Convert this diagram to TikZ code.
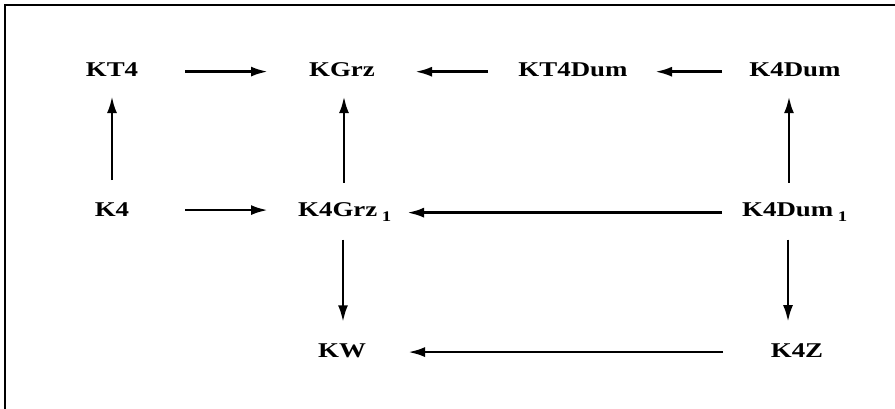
\documentclass[tikz,border=0pt]{standalone}
\usepackage{fontspec}
\setmainfont{Liberation Serif}
\usetikzlibrary{arrows.meta}
\newcommand{\sx}[1]{\scalebox{1.28}[1]{#1}}
\tikzset{
  lbl/.style={font=\fontsize{21}{25}\selectfont\bfseries, inner sep=0pt, anchor=base},
  arr/.style={line width=2.8pt, -{Latex[length=17pt,width=10pt]}},
  frame/.style={line width=2pt}
}
\begin{document}
\begin{tikzpicture}[x=1pt,y=-1pt]
\useasboundingbox (0,0) rectangle (895,409);
\draw[frame] (5,409) -- (5,5) -- (895,5);
% row 1
\node[lbl] (kt4)    at (112,77) {\sx{KT4}};
\node[lbl] (kgrz)   at (342,77) {\sx{KGrz}};
\node[lbl] (kt4dum) at (573,77) {\sx{KT4Dum}};
\node[lbl] (k4dum)  at (795,77) {\sx{K4Dum}};
% row 2
\node[lbl] (k4)     at (112,216) {\sx{K4}};
\node[lbl] (k4grz)  at (345,216) {\sx{K4Grz\,\raisebox{-2pt}{\textsubscript{1}}}};
\node[lbl] (k4dum1) at (795,216) {\sx{K4Dum\,\raisebox{-2pt}{\textsubscript{1}}}};
% row 3
\node[lbl] (kw)     at (342,357) {\sx{KW}};
\node[lbl] (k4z)    at (797,357) {\sx{K4Z}};
% horizontal arrows
\draw[arr, shorten <=73pt, shorten >=74pt] ([yshift=-1.5pt]kt4.center) -- ([yshift=-1.5pt]kt4.center -| kgrz);
\draw[arr, shorten <=85pt, shorten >=73pt] ([yshift=-1.5pt]kt4dum.center) -- ([yshift=-1.5pt]kt4dum.center -| kgrz);
\draw[arr, shorten <=73pt, shorten >=82pt] ([yshift=-1.5pt]k4dum.center) -- ([yshift=-1.5pt]k4dum.center -| kt4dum);
\draw[arr, shorten <=73pt, shorten >=77pt] ([yshift=-1pt]k4.center) -- ([yshift=-1pt]k4.center -| k4grz);
\draw[arr, shorten <=73pt, shorten >=62pt] ([yshift=-1pt]k4dum1.center) -- ([yshift=-1pt]k4dum1.center -| k4grz);
\draw[arr, shorten <=74pt, shorten >=66pt] ([yshift=-2pt]k4z.center) -- ([yshift=-2pt]k4z.center -| kw);
% vertical arrows
\draw[arr, shorten <=29pt, shorten >=26pt] (k4.center) -- (k4.center |- kt4.center);
\draw[arr, shorten <=29pt, shorten >=26pt] ([xshift=-1pt]k4grz.center) -- ([xshift=-1pt]k4grz.center |- kgrz.center);
\draw[arr, shorten <=29pt, shorten >=26pt] ([xshift=-6pt]k4dum1.center) -- ([xshift=-6pt]k4dum1.center |- k4dum.center);
\draw[arr, shorten <=28pt, shorten >=28pt] ([xshift=-2pt]k4grz.center) -- ([xshift=-2pt]k4grz.center |- kw.center);
\draw[arr, shorten <=28pt, shorten >=28pt] ([xshift=-7pt]k4dum1.center) -- ([xshift=-7pt]k4dum1.center |- k4z.center);
\end{tikzpicture}
\end{document}
